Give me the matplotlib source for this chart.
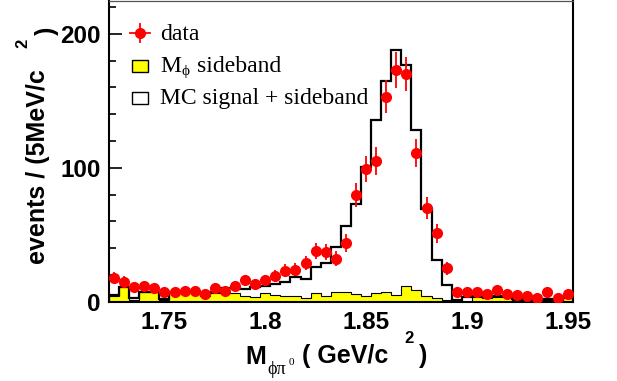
import numpy as np
import matplotlib
matplotlib.use('Agg')
import matplotlib.pyplot as plt

# binning: 5 MeV bins
mass_lo = 1.7225
bin_width = 0.005
n_bins = 46

data_counts = [18, 15, 11, 12, 10, 7, 7, 8, 8, 6, 10, 8, 12, 16, 13, 16, 19, 23, 24, 29,
               38, 37, 32, 44, 80, 99, 105, 153, 173, 170, 111, 70, 51, 25, 7, 7, 7, 6, 9, 6,
               5, 4, 3, 7, 3, 6]
sideband = [4, 10.7, 1.5, 7, 7, 1, 6.2, 7, 7, 4.2, 6.2, 6.7, 6.7, 4.2, 3.7, 6.2, 5, 4.2, 4.2, 2.5,
            6.7, 4.2, 7.5, 7, 5.5, 4.2, 6.2, 7, 5, 11.7, 8.7, 4.2, 3, 1.3, 0.5, 0, 3.7, 3, 3.7, 3.7,
            1.3, 1.3, 0.5, 1.3, 0.5, 3]
mc_total = [5, 11.2, 2.5, 7.5, 7.5, 2, 7.5, 7.5, 7.5, 5.5, 7, 10, 10, 9.5, 11, 12, 13, 15, 18.2, 16.7,
            26, 29, 41, 56.4, 73.3, 100.6, 135.9, 164.7, 187.6, 176.9, 128, 68.9, 31.1, 12.4, 1.3, 3.7,
            4.5, 4, 4.5, 4.5, 2, 2, 1.5, 2, 1.5, 3.5]

x_ticks = [1.75, 1.8, 1.85, 1.9, 1.95]
x_ticklabels = ['1.75', '1.8', '1.85', '1.9', '1.95']
y_ticks = [0, 100, 200]

W, H = 617, 381


def px(x, y):
    return x / W, 1 - y / H


edges = mass_lo + bin_width * np.arange(n_bins + 1)
centers = 0.5 * (edges[:-1] + edges[1:])
counts = np.array(data_counts, dtype=float)

fig = plt.figure(figsize=(W / 100, H / 100), dpi=100)
ax = fig.add_axes([109 / W, 1 - 301.7 / H, 463.7 / W, 300.7 / H])
ax.set_axisbelow(True)

ax.stairs(sideband, edges, fill=True, facecolor='#ffff00', edgecolor='none', zorder=1)
ax.stairs(sideband, edges, color='black', lw=0.8, zorder=1.5)
ax.stairs(mc_total, edges, color='black', lw=1.6, zorder=2)
ax.errorbar(centers, counts, yerr=np.sqrt(counts), fmt='o', color='#ff0000', ms=7,
            elinewidth=1.3, capsize=0, zorder=3)

ax.set_xlim(edges[0], edges[-1])
ax.set_ylim(0, 224.5)

ax.set_xticks(x_ticks)
ax.set_xticklabels(x_ticklabels)
ax.set_yticks(y_ticks)
ax.set_yticks(np.arange(0, 224, 20), minor=True)
ax.tick_params(axis='both', which='both', direction='in', right=False, top=False)
ax.tick_params(axis='y', which='major', length=9, width=1.2, pad=6)
ax.tick_params(axis='y', which='minor', length=4.8, width=1.2)
ax.tick_params(axis='x', which='major', length=0, pad=7)
for lab in ax.get_xticklabels() + ax.get_yticklabels():
    lab.set_fontfamily('Liberation Sans')
    lab.set_fontweight('bold')
    lab.set_fontsize(17.5)

for s in ['left', 'right', 'bottom']:
    ax.spines[s].set_linewidth(1.5)
    ax.spines[s].set_color('black')
ax.spines['top'].set_linewidth(0.9)
ax.spines['top'].set_color('#555555')

# legend drawn by hand, in pixel positions
lx0, ly0 = px(130, 33)
lx1, _ = px(150, 33)
mx, my = px(140, 33)
_, vy0 = px(140, 24)
_, vy1 = px(140, 42)
fig.add_artist(plt.Line2D([lx0, lx1], [ly0, ly0], color='#ff0000', lw=1.3, transform=fig.transFigure))
fig.add_artist(plt.Line2D([mx, mx], [vy0, vy1], color='#ff0000', lw=1.3, transform=fig.transFigure))
fig.add_artist(plt.Line2D([mx], [my], marker='o', ms=7, color='#ff0000', transform=fig.transFigure))
for (yt, fc) in [(60, '#ffff00'), (92, 'white')]:
    bx, by = px(132, yt + 12)
    fig.add_artist(plt.Rectangle((bx, by), 16 / W, 12 / H, facecolor=fc, edgecolor='black',
                                 lw=1.0, transform=fig.transFigure))
serif = ['Liberation Serif', 'DejaVu Serif']
fig.text(*px(160, 40), 'data', family=serif, fontsize=17, ha='left', va='baseline')
fig.text(*px(160, 72), 'M', family=serif, fontsize=17, ha='left', va='baseline')
fig.text(*px(182, 75), 'ϕ', family=serif, fontsize=11, ha='left', va='baseline')
fig.text(*px(197, 72), 'sideband', family=serif, fontsize=17, ha='left', va='baseline')
fig.text(*px(160, 104), 'MC signal + sideband', family=serif, fontsize=17, ha='left', va='baseline')

# axis titles (ROOT-like pieces)
lab_font = dict(family='Liberation Sans', fontweight='bold')
fig.text(*px(245, 363.5), 'M', fontsize=18, ha='left', va='baseline', **lab_font)
fig.text(*px(267, 374), 'ϕπ', family=serif, fontsize=13, ha='left', va='baseline')
fig.text(*px(289, 365), '0', family=serif, fontsize=8, ha='left', va='baseline')
fig.text(*px(302, 363.5), '( GeV/c', fontsize=18, ha='left', va='baseline', **lab_font)
fig.text(*px(404, 343), '2', fontsize=12, ha='left', va='baseline', **lab_font)
fig.text(*px(419, 363.5), ')', fontsize=18, ha='left', va='baseline', **lab_font)

fig.text(*px(38, 167), 'events / (5MeV/c', fontsize=18, rotation=90, ha='center', va='center', **lab_font)
fig.text(*px(23, 43), '2', fontsize=12, rotation=90, ha='center', va='center', **lab_font)
fig.text(*px(47, 31), ')', fontsize=18, rotation=90, ha='center', va='center', **lab_font)

fig.savefig('out.png', dpi=100)
